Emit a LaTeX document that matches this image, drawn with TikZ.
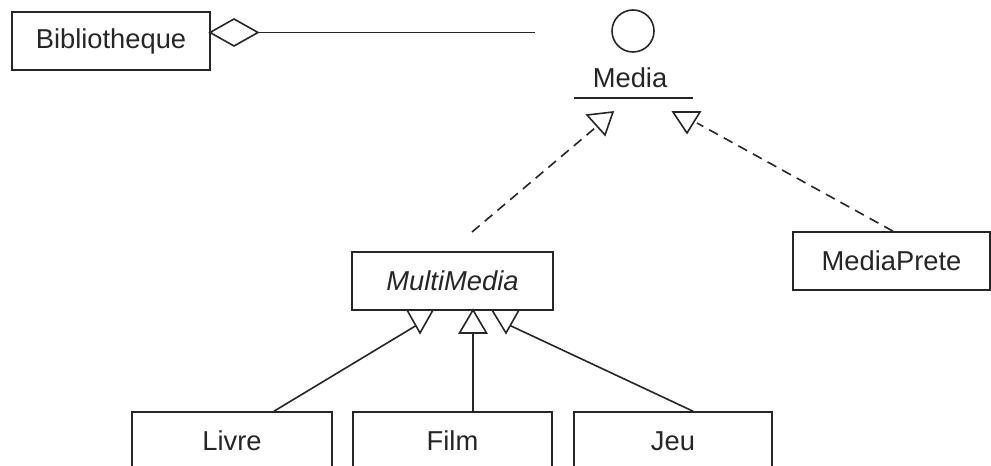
\documentclass[tikz,border=0pt]{standalone}
\usepackage{fontspec}
\setmainfont{Liberation Sans}
\begin{document}
\begin{tikzpicture}[x=0.75pt,y=-0.75pt,
  cls/.style={draw=black!85, line width=1.2pt, minimum height=43.5pt, inner sep=0pt, text=black!85, font=\fontsize{20.5}{24}\selectfont},
  lbl/.style={inner sep=0pt, text=black!85, font=\fontsize{20.5}{24}\selectfont},
  ln/.style={draw=black!85, line width=1.2pt},
  dsh/.style={ln, dash pattern=on 7.5pt off 5pt},
  tri/.style={draw=black!85, line width=1.2pt, line join=miter, fill=white}]
\useasboundingbox (0,0) rectangle (991,466);

% classes
\node[cls, minimum width=148.5pt] (biblio) at (111,41) {Bibliotheque};
\node[cls, minimum width=150.75pt] (multi) at (452.5,281) {\itshape MultiMedia};
\node[cls, minimum width=147.75pt] (prete) at (891.5,261) {MediaPrete};
\node[cls, minimum width=150pt] (livre) at (232,441) {Livre};
\node[cls, minimum width=149.25pt] (film) at (452.5,441) {Film};
\node[cls, minimum width=148.5pt] (jeu) at (673,441) {Jeu};

% interface Media
\node[circle, draw=black!85, line width=1.2pt, minimum size=31.5pt, inner sep=0pt] (media) at (633,31) {};
\node[lbl] (medialbl) at (630,78) {Media};
\coordinate (ulA) at (574,98);
\coordinate (ulB) at (693,98);
\draw[ln] (ulA) -- (ulB);

% aggregation Bibliotheque -- Media
\coordinate (dia1) at (210,32.5);
\coordinate (dia2) at (234,19);
\coordinate (dia3) at (258,32.5);
\coordinate (dia4) at (234,46);
\coordinate (aggEnd) at (535,32.5);
\draw[ln] (dia3) -- (aggEnd);
\draw[tri] (dia1) -- (dia2) -- (dia3) -- (dia4) -- cycle;

% realization MultiMedia -> Media
\coordinate (mmFree) at (472,232);
\coordinate (r1) at (595,128);
\draw[dsh] (mmFree) -- (r1);
\draw[tri] (587,115) -- (613,112) -- (605,135) -- cycle;

% realization MediaPrete -> Media
\coordinate (mpTop) at (prete.north -| 893,0);
\coordinate (r2) at (697,123);
\draw[dsh] (mpTop) -- (r2);
\draw[tri] (673,112) -- (700,112) -- (687,133) -- cycle;

% generalizations to MultiMedia
\coordinate (livTop) at (livre.north -| 274,0);
\coordinate (g1) at (417,325);
\draw[ln] (livTop) -- (g1);
\draw[tri] (407,310) -- (433,310) -- (420,333) -- cycle;

\coordinate (filTop) at (film.north -| 473,0);
\coordinate (g2) at (473,333);
\draw[ln] (filTop) -- (g2);
\draw[tri] (473,310) -- (486.5,333) -- (459.5,333) -- cycle;

\coordinate (jeuTop) at (jeu.north -| 693,0);
\coordinate (g3) at (509,325);
\draw[ln] (jeuTop) -- (g3);
\draw[tri] (492,310) -- (519,310) -- (506,333) -- cycle;
\end{tikzpicture}
\end{document}
